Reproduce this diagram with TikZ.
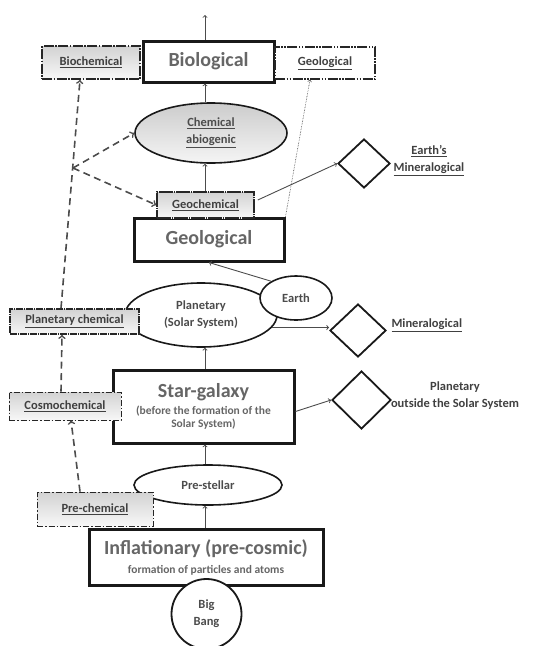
\documentclass[tikz,border=0pt]{standalone}
\usepackage{fontspec}
\setmainfont{Carlito}
\usetikzlibrary{shapes.geometric}

\newcommand\bigtxt{\fontsize{20}{22}\selectfont\bfseries}
\newcommand\midtxt{\fontsize{12.5}{17}\selectfont\bfseries}
\newcommand\smalltxt{\fontsize{11.5}{13}\selectfont\bfseries}

\tikzset{
  bigbox/.style={draw=black!90, line width=3pt, fill=white, text=black!60, inner sep=0pt, align=center, font=\bigtxt},
  chembox/.style={draw=black!85, line width=1.6pt, dash pattern=on 10pt off 1.5pt on 1.5pt off 1.5pt, top color=gray!35, bottom color=gray!6, text=black!75, inner sep=0pt, align=center, font=\midtxt},
  thinbox/.style={chembox, line width=.8pt, dash pattern=on 6pt off 2pt on 1.5pt off 2pt},
  oval/.style={ellipse, draw=black!90, line width=1.6pt, fill=white, text=black!70, inner sep=0pt, align=center, font=\midtxt},
  gem/.style={diamond, draw=black!90, line width=1.8pt, inner sep=0pt},
  lab/.style={text=black!75, align=center, font=\midtxt},
  arr/.style={->, draw=black!70, line width=.9pt},
  darr/.style={->, draw=black!70, line width=1.6pt, dash pattern=on 7pt off 4.5pt},
  dotarr/.style={->, draw=black!75, line width=.6pt, densely dotted}
}

\begin{document}
\begin{tikzpicture}[x=1pt, y=-1pt]
\useasboundingbox (0,0) rectangle (547,646);

\node[chembox, minimum width=98, minimum height=33] (Bc) at (91,62.5) {\underline{Biochemical}};
\node[bigbox, minimum width=131, minimum height=41] (Bio) at (208.5,61.5) {Biological};
\node[chembox, top color=white, bottom color=white, minimum width=100, minimum height=32,
      dash pattern=on 10pt off 1.5pt on 1.5pt off 1.5pt on 1.5pt off 1.5pt] (GeoT) at (325,63) {\underline{Geological}};

\node[oval, top color=gray!40, bottom color=gray!8, minimum width=152, minimum height=60] (Ch) at (211,133) {\underline{Chemical}\\\underline{abiogenic}};
\node[gem, minimum width=52, minimum height=49] (Em) at (364,163.5) {};
\node[lab] (EmL) at (429,161) {\underline{Earth’s}\\\underline{Mineralogical}};

\node[bigbox, minimum width=150, minimum height=43] (Geo) at (209,239.5) {Geological};
\node[chembox, minimum width=97, minimum height=26, dash pattern=on 14pt off 1pt on 1pt off 1pt] (Gc) at (205.5,205) {\underline{Geochemical}};

\node[oval, minimum width=152, minimum height=64] (Pl) at (201,315) {Planetary\\(Solar System)};
\node[oval, minimum width=72, minimum height=44] (Ea) at (296,298) {Earth};
\node[chembox, minimum width=129, minimum height=25, dash pattern=on 7pt off 1pt on 1pt off 1pt] (Pc) at (74.5,321.5) {\underline{Planetary chemical}};
\node[gem, minimum width=56, minimum height=53] (Pm) at (358,330.5) {};
\node[lab, anchor=west] (PmL) at (388,325) {\underline{Mineralogical}};

\node[bigbox, font=\smalltxt, minimum width=181, minimum height=73] (Star) at (203.5,406.5) {{\bigtxt Star-galaxy}\\[4pt](before the formation of the\\Solar System)};
\node[thinbox, minimum width=112, minimum height=28] (Co) at (65,406) {\underline{Cosmochemical}};
\node[gem, minimum width=59, minimum height=58] (Sd) at (361.5,400) {};
\node[lab] (SdL) at (455,396) {Planetary\\outside the Solar System};

\node[oval, minimum width=148, minimum height=40] (Ps) at (208,485) {Pre-stellar};
\node[thinbox, minimum width=116, minimum height=34] (Pr) at (95,509) {\underline{Pre-chemical}};
\node[bigbox, font=\smalltxt, minimum width=234, minimum height=56] (Inf) at (206,557) {{\bigtxt Inflationary (pre-cosmic)}\\[6pt]formation of particles and atoms};
\node[circle, draw=black!90, line width=1.8pt, fill=white, minimum size=70, inner sep=0pt, text=black!70, align=center, font=\midtxt] (BB) at (206.5,614) {Big\\Bang};

\coordinate (Up) at (205,15);
\coordinate (F) at (73,168);

\draw[arr] (Bio.north -| Up) -- (Up);
\draw[arr] (Ch.north -| Up) -- (Bio.south -| Up);
\draw[arr] (Gc.north -| Up) -- (Ch.south -| Up);
\draw[arr] ([xshift=3,yshift=5]Gc.east) -- (Em.west);
\draw[dotarr] (Geo.north east) -- ([xshift=-15]GeoT.south);
\draw[arr] (Ea.146) -- (Geo.south);
\draw[arr] (Pl.-10) -- (Pl.-10 -| Pm.west);
\draw[arr] (Star.north -| Up) -- (Pl.south -| Up);
\draw[arr] ([yshift=-5]Star.east) -- (Sd.west);
\draw[arr] (Ps.north -| Up) -- (Star.south -| Up);
\draw[arr] (Inf.north -| Up) -- (Ps.south -| Up);

\draw[darr] ([xshift=-13.5]Pc.north) -- ([xshift=-11]Bc.south);
\draw[darr] (F) -- (Ch.west);
\draw[darr] (F) -- (Gc.west);
\draw[darr] ([xshift=-4]Co.north) -- ([xshift=-12.5]Pc.south);
\draw[darr] ([xshift=-15]Pr.north) -- ([xshift=6]Co.south);
\end{tikzpicture}
\end{document}
